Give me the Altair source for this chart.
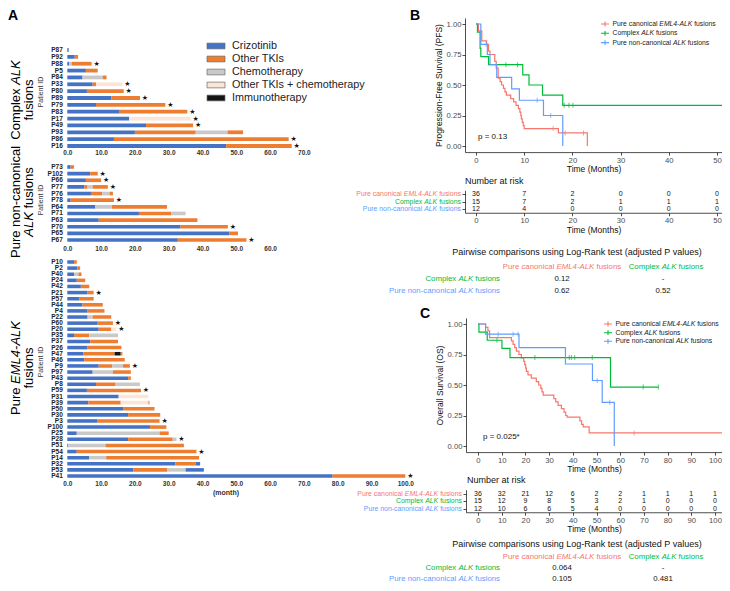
import altair as alt
import pandas as pd

# ------------------------------------------------------------------ data
THERAPIES = ["Crizotinib", "Other TKIs", "Chemotherapy", "Other TKIs + chemotherapy", "Immunotherapy"]
THERAPY_COLORS = ["#4472C4", "#ED7D31", "#C9C9C9", "#FBE5D6", "#141414"]
CODES = {"C": "Crizotinib", "O": "Other TKIs", "H": "Chemotherapy",
         "P": "Other TKIs + chemotherapy", "I": "Immunotherapy"}

complex_ids = ["P87", "P92", "P88", "P5", "P84", "P33", "P80", "P89", "P79", "P83",
               "P17", "P49", "P93", "P86", "P16"]
complex_segments = [
    [("C", 0.4)],
    [("C", 2.2), ("O", 3.2)],
    [("C", 0.6), ("H", 1.3), ("O", 7.2)],
    [("C", 5.5), ("O", 9.0)],
    [("C", 4.5), ("H", 10.5), ("O", 11.6)],
    [("C", 7.5), ("O", 8.5), ("P", 16.3)],
    [("C", 5.8), ("O", 16.7)],
    [("C", 13.0), ("O", 21.5)],
    [("C", 8.5), ("O", 29.0)],
    [("C", 15.5), ("O", 35.5)],
    [("C", 18.3), ("P", 36.5)],
    [("C", 23.3), ("O", 37.2)],
    [("C", 20.0), ("O", 38.0), ("H", 47.4), ("O", 52.0)],
    [("C", 13.8), ("O", 65.5)],
    [("C", 47.0), ("O", 66.4)],
]
complex_stars = ["P88", "P33", "P80", "P89", "P79", "P83", "P17", "P49", "P86", "P16"]

noncanon_ids = ["P73", "P102", "P66", "P77", "P76", "P78", "P64", "P71", "P63", "P70", "P65", "P67"]
noncanon_segments = [
    [("C", 1.0), ("O", 2.0)],
    [("C", 6.8), ("O", 9.0)],
    [("C", 5.5), ("O", 10.0)],
    [("C", 5.0), ("O", 6.0), ("H", 7.5), ("O", 12.0)],
    [("C", 7.0), ("O", 10.3), ("H", 12.5), ("O", 13.5)],
    [("C", 1.0), ("O", 13.8)],
    [("C", 8.3), ("H", 13.2), ("O", 29.5)],
    [("C", 21.2), ("O", 30.8), ("H", 35.0)],
    [("C", 9.3), ("O", 38.5)],
    [("C", 33.5), ("O", 47.5)],
    [("C", 48.0), ("O", 50.5)],
    [("C", 32.7), ("O", 53.0)],
]
noncanon_stars = ["P102", "P66", "P77", "P78", "P70", "P67"]

eml4_ids = ["P10", "P2", "P40", "P24", "P42", "P21", "P57", "P44", "P4", "P22", "P60", "P20",
            "P35", "P37", "P26", "P47", "P46", "P9", "P97", "P43", "P8", "P59", "P31", "P39",
            "P50", "P30", "P3", "P100", "P25", "P28", "P51", "P54", "P14", "P32", "P53", "P41"]
eml4_segments = [
    [("C", 2.0), ("O", 2.8)],
    [("C", 3.0), ("O", 3.8)],
    [("C", 2.0), ("H", 3.3), ("O", 4.2)],
    [("C", 2.8), ("O", 5.3)],
    [("C", 4.0), ("O", 6.5)],
    [("C", 6.0), ("O", 7.8)],
    [("C", 3.5), ("O", 7.8)],
    [("C", 4.5), ("O", 10.5)],
    [("C", 6.0), ("O", 11.0)],
    [("C", 6.0), ("H", 7.5), ("O", 13.0)],
    [("C", 9.0), ("O", 13.5)],
    [("C", 9.3), ("O", 13.0), ("P", 14.5)],
    [("C", 2.0), ("O", 6.5), ("H", 15.0)],
    [("C", 6.8), ("O", 15.0)],
    [("C", 6.0), ("O", 16.0)],
    [("C", 4.8), ("O", 14.0), ("I", 15.8), ("O", 16.3)],
    [("C", 5.0), ("O", 17.0)],
    [("C", 9.3), ("O", 13.3), ("H", 16.5), ("O", 18.5)],
    [("C", 7.5), ("H", 13.5), ("O", 18.8)],
    [("C", 18.0), ("O", 18.8)],
    [("C", 8.5), ("O", 14.3), ("H", 21.5)],
    [("C", 5.8), ("O", 21.8)],
    [("C", 15.2), ("P", 24.0)],
    [("C", 6.2), ("O", 15.8), ("P", 24.0), ("O", 24.3)],
    [("C", 16.5), ("O", 25.8)],
    [("C", 18.0), ("O", 27.5)],
    [("C", 8.8), ("O", 27.3)],
    [("C", 24.5), ("O", 29.3)],
    [("C", 2.8), ("H", 27.3), ("O", 30.0)],
    [("C", 18.0), ("O", 31.2), ("H", 32.3)],
    [("C", 0.3), ("H", 11.3), ("O", 34.5)],
    [("C", 2.8), ("O", 38.2)],
    [("C", 6.5), ("H", 11.5), ("O", 39.0)],
    [("C", 32.0), ("O", 38.0), ("C", 39.3)],
    [("C", 19.5), ("O", 29.5), ("H", 35.0), ("C", 40.4)],
    [("C", 78.5), ("O", 100.0)],
]
eml4_stars = ["P21", "P60", "P20", "P9", "P59", "P3", "P28", "P54", "P41"]

GROUPS = ["Pure canonical EML4-ALK fusions", "Complex ALK fusions", "Pure non-canonical ALK fusions"]
GROUP_COLORS = ["#F8766D", "#00BA38", "#619CFF"]

# PFS (panel B) step curves
pfs_time = {
    GROUPS[0]: [0, 0.5, 1.2, 2.2, 2.6, 2.9, 3.9, 4.2, 4.6, 5.0, 5.3, 5.7, 6.0, 6.3, 7.2, 7.8,
                8.3, 8.8, 9.1, 9.3, 9.4, 9.6, 9.8, 10.0, 17.1, 23.1],
    GROUPS[1]: [0, 0.3, 0.85, 1.0, 2.6, 9.7, 11.0, 13.8, 18.0, 52.7],
    GROUPS[2]: [0, 1.0, 2.35, 2.9, 4.3, 7.4, 9.0, 14.0, 18.0],
}
pfs_surv = {
    GROUPS[0]: [1.0, 0.944, 0.861, 0.833, 0.778, 0.75, 0.694, 0.639, 0.556, 0.528, 0.50, 0.472,
                0.444, 0.417, 0.389, 0.361, 0.333, 0.306, 0.278, 0.25, 0.222, 0.194, 0.167,
                0.143, 0.107, 0.0],
    GROUPS[1]: [1.0, 0.933, 0.8, 0.733, 0.667, 0.583, 0.50, 0.417, 0.333, 0.333],
    GROUPS[2]: [1.0, 0.833, 0.75, 0.667, 0.5625, 0.469, 0.375, 0.25, 0.0],
}
pfs_cens_time = {GROUPS[0]: [16.0, 18.5, 22.3], GROUPS[1]: [6.2, 8.6, 18.3, 19.3, 20.1],
                 GROUPS[2]: [2.1, 12.7, 15.5]}
pfs_cens_surv = {GROUPS[0]: [0.143, 0.107, 0.107], GROUPS[1]: [0.667, 0.667, 0.333, 0.333, 0.333],
                 GROUPS[2]: [0.833, 0.375, 0.25]}

# OS (panel C) step curves
os_time = {
    GROUPS[0]: [0, 3.2, 4.2, 4.9, 14.1, 14.8, 15.5, 16.2, 17.3, 18.3, 19.3, 19.7, 20.1, 20.4,
                21.1, 22.5, 24.6, 25.6, 26.5, 27.0, 27.5, 32.0, 32.8, 33.8, 35.2, 36.3, 37.0,
                37.6, 43.0, 43.7, 44.4, 46.9, 104.2],
    GROUPS[1]: [0, 0.4, 3.9, 10.1, 13.5, 55.9, 76.1],
    GROUPS[2]: [0, 3.2, 17.3, 36.9, 48.3, 52.4, 57.5],
}
os_surv = {
    GROUPS[0]: [1.0, 0.972, 0.944, 0.889, 0.861, 0.833, 0.806, 0.778, 0.75, 0.722, 0.694,
                0.667, 0.639, 0.611, 0.583, 0.556, 0.528, 0.50, 0.472, 0.444, 0.417, 0.389,
                0.361, 0.333, 0.306, 0.278, 0.25, 0.236, 0.206, 0.177, 0.157, 0.107, 0.107],
    GROUPS[1]: [1.0, 0.933, 0.867, 0.80, 0.725, 0.483, 0.483],
    GROUPS[2]: [1.0, 0.917, 0.806, 0.672, 0.537, 0.358, 0.0],
}
os_cens_time = {GROUPS[0]: [65.9, 104.2],
                GROUPS[1]: [8.0, 24.0, 38.5, 39.4, 40.8, 48.2, 69.7, 76.1],
                GROUPS[2]: [8.5, 14.8, 16.9, 50.3, 55.6]}
os_cens_surv = {GROUPS[0]: [0.107, 0.107],
                GROUPS[1]: [0.867, 0.725, 0.725, 0.725, 0.725, 0.725, 0.483, 0.483],
                GROUPS[2]: [0.917, 0.917, 0.917, 0.537, 0.358]}

pfs_risk_times = [0, 10, 20, 30, 40, 50]
pfs_risk = {GROUPS[0]: [36, 7, 2, 0, 0, 0], GROUPS[1]: [15, 7, 2, 1, 1, 1], GROUPS[2]: [12, 4, 0, 0, 0, 0]}
os_risk_times = [0, 10, 20, 30, 40, 50, 60, 70, 80, 90, 100]
os_risk = {GROUPS[0]: [36, 32, 21, 12, 6, 2, 2, 1, 1, 1, 1],
           GROUPS[1]: [15, 12, 9, 8, 5, 3, 2, 1, 0, 0, 0],
           GROUPS[2]: [12, 10, 6, 6, 5, 4, 0, 0, 0, 0, 0]}

pfs_pairwise = [["0.12", "-"], ["0.62", "0.52"]]
os_pairwise = [["0.064", "-"], ["0.105", "0.481"]]

# ------------------------------------------------------------------ helpers
W, H = 714, 575
ARIAL = {" ": 278, "!": 278, "(": 333, ")": 333, "*": 389, "+": 584, ",": 278, "-": 333, ".": 278,
         "=": 584, ":": 278,
         "A": 667, "B": 667, "C": 722, "D": 722, "E": 667, "F": 611, "G": 778, "H": 722, "I": 278,
         "J": 500, "K": 667, "L": 556, "M": 833, "N": 722, "O": 778, "P": 667, "Q": 778, "R": 722,
         "S": 667, "T": 611, "U": 722, "V": 667, "W": 944, "X": 667, "Y": 667, "Z": 611,
         "a": 556, "b": 556, "c": 500, "d": 556, "e": 556, "f": 278, "g": 556, "h": 556, "i": 222,
         "j": 222, "k": 500, "l": 222, "m": 833, "n": 556, "o": 556, "p": 556, "q": 556, "r": 333,
         "s": 500, "t": 278, "u": 556, "v": 500, "w": 722, "x": 500, "y": 500, "z": 500}


def tw(s, size):
    return sum(ARIAL.get(c, 556) for c in s) / 1000.0 * size


ANN = []


def rich(pieces, x, y, size, color="#111111", align="left", angle=0, bold=False):
    total = sum(tw(t, size) for t, _ in pieces)
    cum = -{"left": 0.0, "center": total / 2.0, "right": total}[align]
    for text, italic in pieces:
        lead = len(text) - len(text.lstrip(" "))
        body = text.strip(" ")
        off = cum + tw(" " * lead, size)
        if body:
            if angle == 0:
                px, py = x + off, y
            else:
                px, py = x, y - off
            ANN.append(dict(x=px, y=py, text=body, size=size, color=color, angle=angle,
                            italic=italic, bold=bold))
        cum += tw(text, size)


layers = []

# ------------------------------------------------------------------ panel A (swimmer)
SX0, SPX = 59.3, 3.38
therapy_scale = alt.Scale(domain=THERAPIES, range=THERAPY_COLORS)


def swimmer(ids, segs, stars, xmax, yr, label_pad, pin):
    rows = []
    for pid, ss in zip(ids, segs):
        start = 0.0
        for code, end in ss:
            rows.append(dict(pid=pid, therapy=CODES[code], start=start, end=end))
            start = end
    df = pd.DataFrame(rows)
    ends = {pid: ss[-1][1] for pid, ss in zip(ids, segs)}
    sdf = pd.DataFrame({"pid": stars, "end": [ends[p] for p in stars]})
    xs = alt.Scale(domain=[0, xmax], range=[SX0, SX0 + xmax * SPX], nice=False, zero=False)
    ys = alt.Scale(domain=ids, range=yr, paddingInner=pin, paddingOuter=pin / 2)
    bars = alt.Chart(df).mark_bar().encode(
        x=alt.X("start:Q", scale=xs,
                axis=alt.Axis(orient="bottom", offset=yr[1] - H, values=list(range(0, xmax + 1, 10)),
                              format=".1f", domain=False, ticks=False, tickSize=0, grid=False,
                              labelFontSize=6.5, labelFontWeight="bold", labelColor="#333333",
                              labelPadding=label_pad, labelFlush=False, labelOverlap=False,
                              title=None)),
        x2="end:Q",
        y=alt.Y("pid:N", scale=ys,
                axis=alt.Axis(orient="left", offset=-SX0, domain=False, ticks=False, tickSize=0,
                              grid=False, labelFontSize=6.5, labelFontWeight="bold",
                              labelColor="#222222", labelPadding=5, labelOverlap=False,
                              title=None)),
        color=alt.Color("therapy:N", scale=therapy_scale, legend=None),
    )
    star = alt.Chart(sdf).mark_text(text="★", font="DejaVu Sans", fontSize=7, dx=5,
                                    align="center", baseline="middle", color="#111111").encode(
        x=alt.X("end:Q", scale=xs, axis=None),
        y=alt.Y("pid:N", scale=ys, axis=None),
    )
    return [bars, star]


layers += swimmer(complex_ids, complex_segments, complex_stars, 70, [38.57, 141.43], 0, 0.45)
layers += swimmer(noncanon_ids, noncanon_segments, noncanon_stars, 60, [155.68, 235.32], 2, 0.45)
layers += swimmer(eml4_ids, eml4_segments, eml4_stars, 100, [250.94, 471.06], 1, 0.42)

# therapy legend (rows laid out by a band scale, colours from the therapy scale)
leg_df = pd.DataFrame({"therapy": THERAPIES})
leg_y = alt.Scale(domain=THERAPIES, range=[31.5, 96.5], paddingInner=0.56, paddingOuter=0.28)
leg_y_txt = alt.Scale(domain=THERAPIES, range=[31.5, 96.5], paddingInner=0, paddingOuter=0)
layers.append(
    alt.Chart(leg_df).mark_bar(stroke="#6a6a6a", strokeWidth=0.7).encode(
        x=alt.value(199), x2=alt.value(217),
        y=alt.Y("therapy:N", scale=leg_y, axis=None),
        color=alt.Color("therapy:N", scale=therapy_scale, legend=None),
    )
)
layers.append(
    alt.Chart(leg_df).mark_text(align="left", baseline="middle", fontSize=10.8,
                                color="#222222").encode(
        x=alt.value(224),
        y=alt.Y("therapy:N", scale=leg_y_txt, axis=None),
        text="therapy:N",
    )
)

rich([("A", False)], 0, 7.5, 14, "#000000", bold=True)
TITLE_FS = 13
L1, L2 = 7.5, 21
rich([("Complex ", False), ("ALK", True)], L1, 92, TITLE_FS, "#000000", "center", 270)
rich([("fusions", False)], L2, 92, TITLE_FS, "#000000", "center", 270)
rich([("Pure non-canonical", False)], L1, 194, TITLE_FS, "#000000", "center", 270)
rich([("ALK", True), (" fusions", False)], L2, 194, TITLE_FS, "#000000", "center", 270)
rich([("Pure ", False), ("EML4-ALK", True)], L1, 360, TITLE_FS, "#000000", "center", 270)
rich([("fusions", False)], L2, 360, TITLE_FS, "#000000", "center", 270)
for cy in (84, 192, 354):
    rich([("Patient ID", False)], 33, cy, 7, "#333333", "center", 270)
rich([("(month)", False)], 217, 485, 7, "#333333", "center", bold=True)

# ------------------------------------------------------------------ KM panels
AXS = dict(domainColor="#222222", domainWidth=0.8, tickColor="#222222", tickWidth=0.8, tickSize=3,
           labelColor="#4d4d4d", labelFontSize=7.7, grid=False, titleColor="#111111",
           titleFontSize=8.5, titleFontWeight="normal", labelPadding=1, labelFlush=False,
           labelOverlap=False)

LABEL_PIECES = [
    [("Pure canonical ", False), ("EML4-ALK", True), (" fusions", False)],
    [("Complex ", False), ("ALK", True), (" fusions", False)],
    [("Pure non-canonical ", False), ("ALK", True), (" fusions", False)],
]

gscale = alt.Scale(domain=GROUPS, range=GROUP_COLORS)
GLYPHS = []


def km(times, survs, ctimes, csurvs, x0, pxm, xleft, yr, ytitle, xvals,
       rtimes, rcounts, ryr, leg_x, leg_ys, pval, pxy, nar_xy, lab_x, pw, pw_ys):
    xdom = [(xleft - x0) / pxm, (W - x0) / pxm]
    xr = [xleft, W]
    xs = alt.Scale(domain=xdom, range=xr, nice=False, zero=False)
    ys = alt.Scale(domain=[-0.05, 1.05], range=yr, nice=False, zero=False)
    rows = [dict(grp=g, t=t, s=s) for g in GROUPS for t, s in zip(times[g], survs[g])]
    crow = [dict(grp=g, t=t, s=s) for g in GROUPS for t, s in zip(ctimes[g], csurvs[g])]
    line = alt.Chart(pd.DataFrame(rows)).mark_line(interpolate="step-after", strokeWidth=1.2,
                                                    clip=True).encode(
        x=alt.X("t:Q", scale=xs, axis=alt.Axis(orient="bottom", offset=yr[0] - H, values=xvals,
                                               title="Time (Months)", titlePadding=1, **AXS)),
        y=alt.Y("s:Q", scale=ys, axis=alt.Axis(orient="left", offset=-xleft,
                                               values=[0, 0.25, 0.5, 0.75, 1.0], format=".2f",
                                               title=ytitle, titlePadding=3, **AXS)),
        color=alt.Color("grp:N", scale=gscale, legend=None),
        order="t:Q",
    )
    cens = alt.Chart(pd.DataFrame(crow)).mark_tick(orient="vertical", size=5, thickness=1,
                                                   clip=True).encode(
        x=alt.X("t:Q", scale=xs, axis=None),
        y=alt.Y("s:Q", scale=ys, axis=None),
        color=alt.Color("grp:N", scale=gscale, legend=None),
    )
    rrows = [dict(grp=g, t=t, n=n) for g in GROUPS for t, n in zip(rtimes, rcounts[g])]
    rys = alt.Scale(domain=GROUPS, range=ryr, paddingInner=0, paddingOuter=0)
    risk = alt.Chart(pd.DataFrame(rrows)).mark_text(fontSize=7, color="#111111",
                                                    baseline="middle").encode(
        x=alt.X("t:Q", scale=xs, axis=alt.Axis(orient="bottom", offset=ryr[1] - H, values=rtimes,
                                               title="Time (Months)", titlePadding=1, **AXS)),
        y=alt.Y("grp:N", scale=rys, axis=alt.Axis(orient="left", offset=-xleft, labels=False,
                                                  title=None, **AXS)),
        text="n:Q",
    )
    # legend, annotations
    for i, g in enumerate(GROUPS):
        GLYPHS.append(dict(x=leg_x, y=leg_ys[i], color=GROUP_COLORS[i]))
        rich(LABEL_PIECES[i], leg_x + 7.5, leg_ys[i], 6.8, "#1a1a1a")
    rich([(pval, False)], pxy[0], pxy[1], 8, "#111111")
    rich([("Number at risk", False)], nar_xy[0], nar_xy[1], 9, "#111111")
    step = (ryr[1] - ryr[0]) / 3.0
    for i in range(3):
        rich(LABEL_PIECES[i], lab_x, ryr[0] + step * (i + 0.5), 6.9, GROUP_COLORS[i], "right")
    # pairwise table
    rich([("Pairwise comparisons using Log-Rank test (adjusted P values)", False)],
         569, pw_ys[0], 9, "#111111", "center")
    rich(LABEL_PIECES[0], 554, pw_ys[1], 7.8, GROUP_COLORS[0], "center")
    rich(LABEL_PIECES[1], 658, pw_ys[1], 7.8, GROUP_COLORS[1], "center")
    for r in range(2):
        rich(LABEL_PIECES[r + 1], 492, pw_ys[2 + r], 7.8, GROUP_COLORS[r + 1], "right")
        rich([(pw[r][0], False)], 554, pw_ys[2 + r], 7.8, "#111111", "center")
        rich([(pw[r][1], False)], 655, pw_ys[2 + r], 7.8, "#111111", "center")
    return [line, cens, risk]


layers += km(pfs_time, pfs_surv, pfs_cens_time, pfs_cens_surv, 468, 4.82, 457, [144.1, 9.9],
             "Progression-Free Survival (PFS)", [0, 10, 20, 30, 40, 50],
             pfs_risk_times, pfs_risk, [182.25, 204.75],
             597, [16, 25.3, 34.6], "p = 0.13", (470, 129), (457, 173), 453,
             pfs_pairwise, [244, 259, 271, 283])
layers += km(os_time, os_surv, os_cens_time, os_cens_surv, 470, 2.37, 458, [444.1, 309.9],
             "Overall Survival (OS)", [0, 10, 20, 30, 40, 50, 60, 70, 80, 90, 100],
             os_risk_times, os_risk, [481.75, 504.25],
             600, [316, 324.7, 333.3], "p = 0.025*", (475, 429), (459, 472), 454,
             os_pairwise, [536, 549, 560, 571])

rich([("B", False)], 402, 7.5, 14, "#000000", bold=True)
rich([("C", False)], 412, 306, 14, "#000000", bold=True)

glyph = alt.Chart(pd.DataFrame(GLYPHS)).mark_point(
    shape="M-1,0L1,0M0,-0.6L0,0.6", filled=False, size=64, strokeWidth=1.1, opacity=1).encode(
    x=alt.X("x:Q", scale=None), y=alt.Y("y:Q", scale=None), color=alt.Color("color:N", scale=None))
layers.append(glyph)

adf = pd.DataFrame(ANN)
for (it, bd), sub in adf.groupby(["italic", "bold"]):
    layers.append(
        alt.Chart(sub).mark_text(align="left", baseline="middle",
                                 fontStyle="italic" if it else "normal",
                                 fontWeight="bold" if bd else "normal").encode(
            x=alt.X("x:Q", scale=None),
            y=alt.Y("y:Q", scale=None),
            text="text:N",
            size=alt.Size("size:Q", scale=None),
            color=alt.Color("color:N", scale=None),
            angle=alt.Angle("angle:Q", scale=None),
        )
    )

chart = (
    alt.layer(*layers)
    .properties(width=W, height=H, autosize=alt.AutoSizeParams(type="none"), padding=0)
    .resolve_scale(x="independent", y="independent", color="independent")
    .configure(font="Liberation Sans")
    .configure_view(stroke=None)
)
chart.save("out.html", embed_options={"renderer": "svg", "actions": False})
